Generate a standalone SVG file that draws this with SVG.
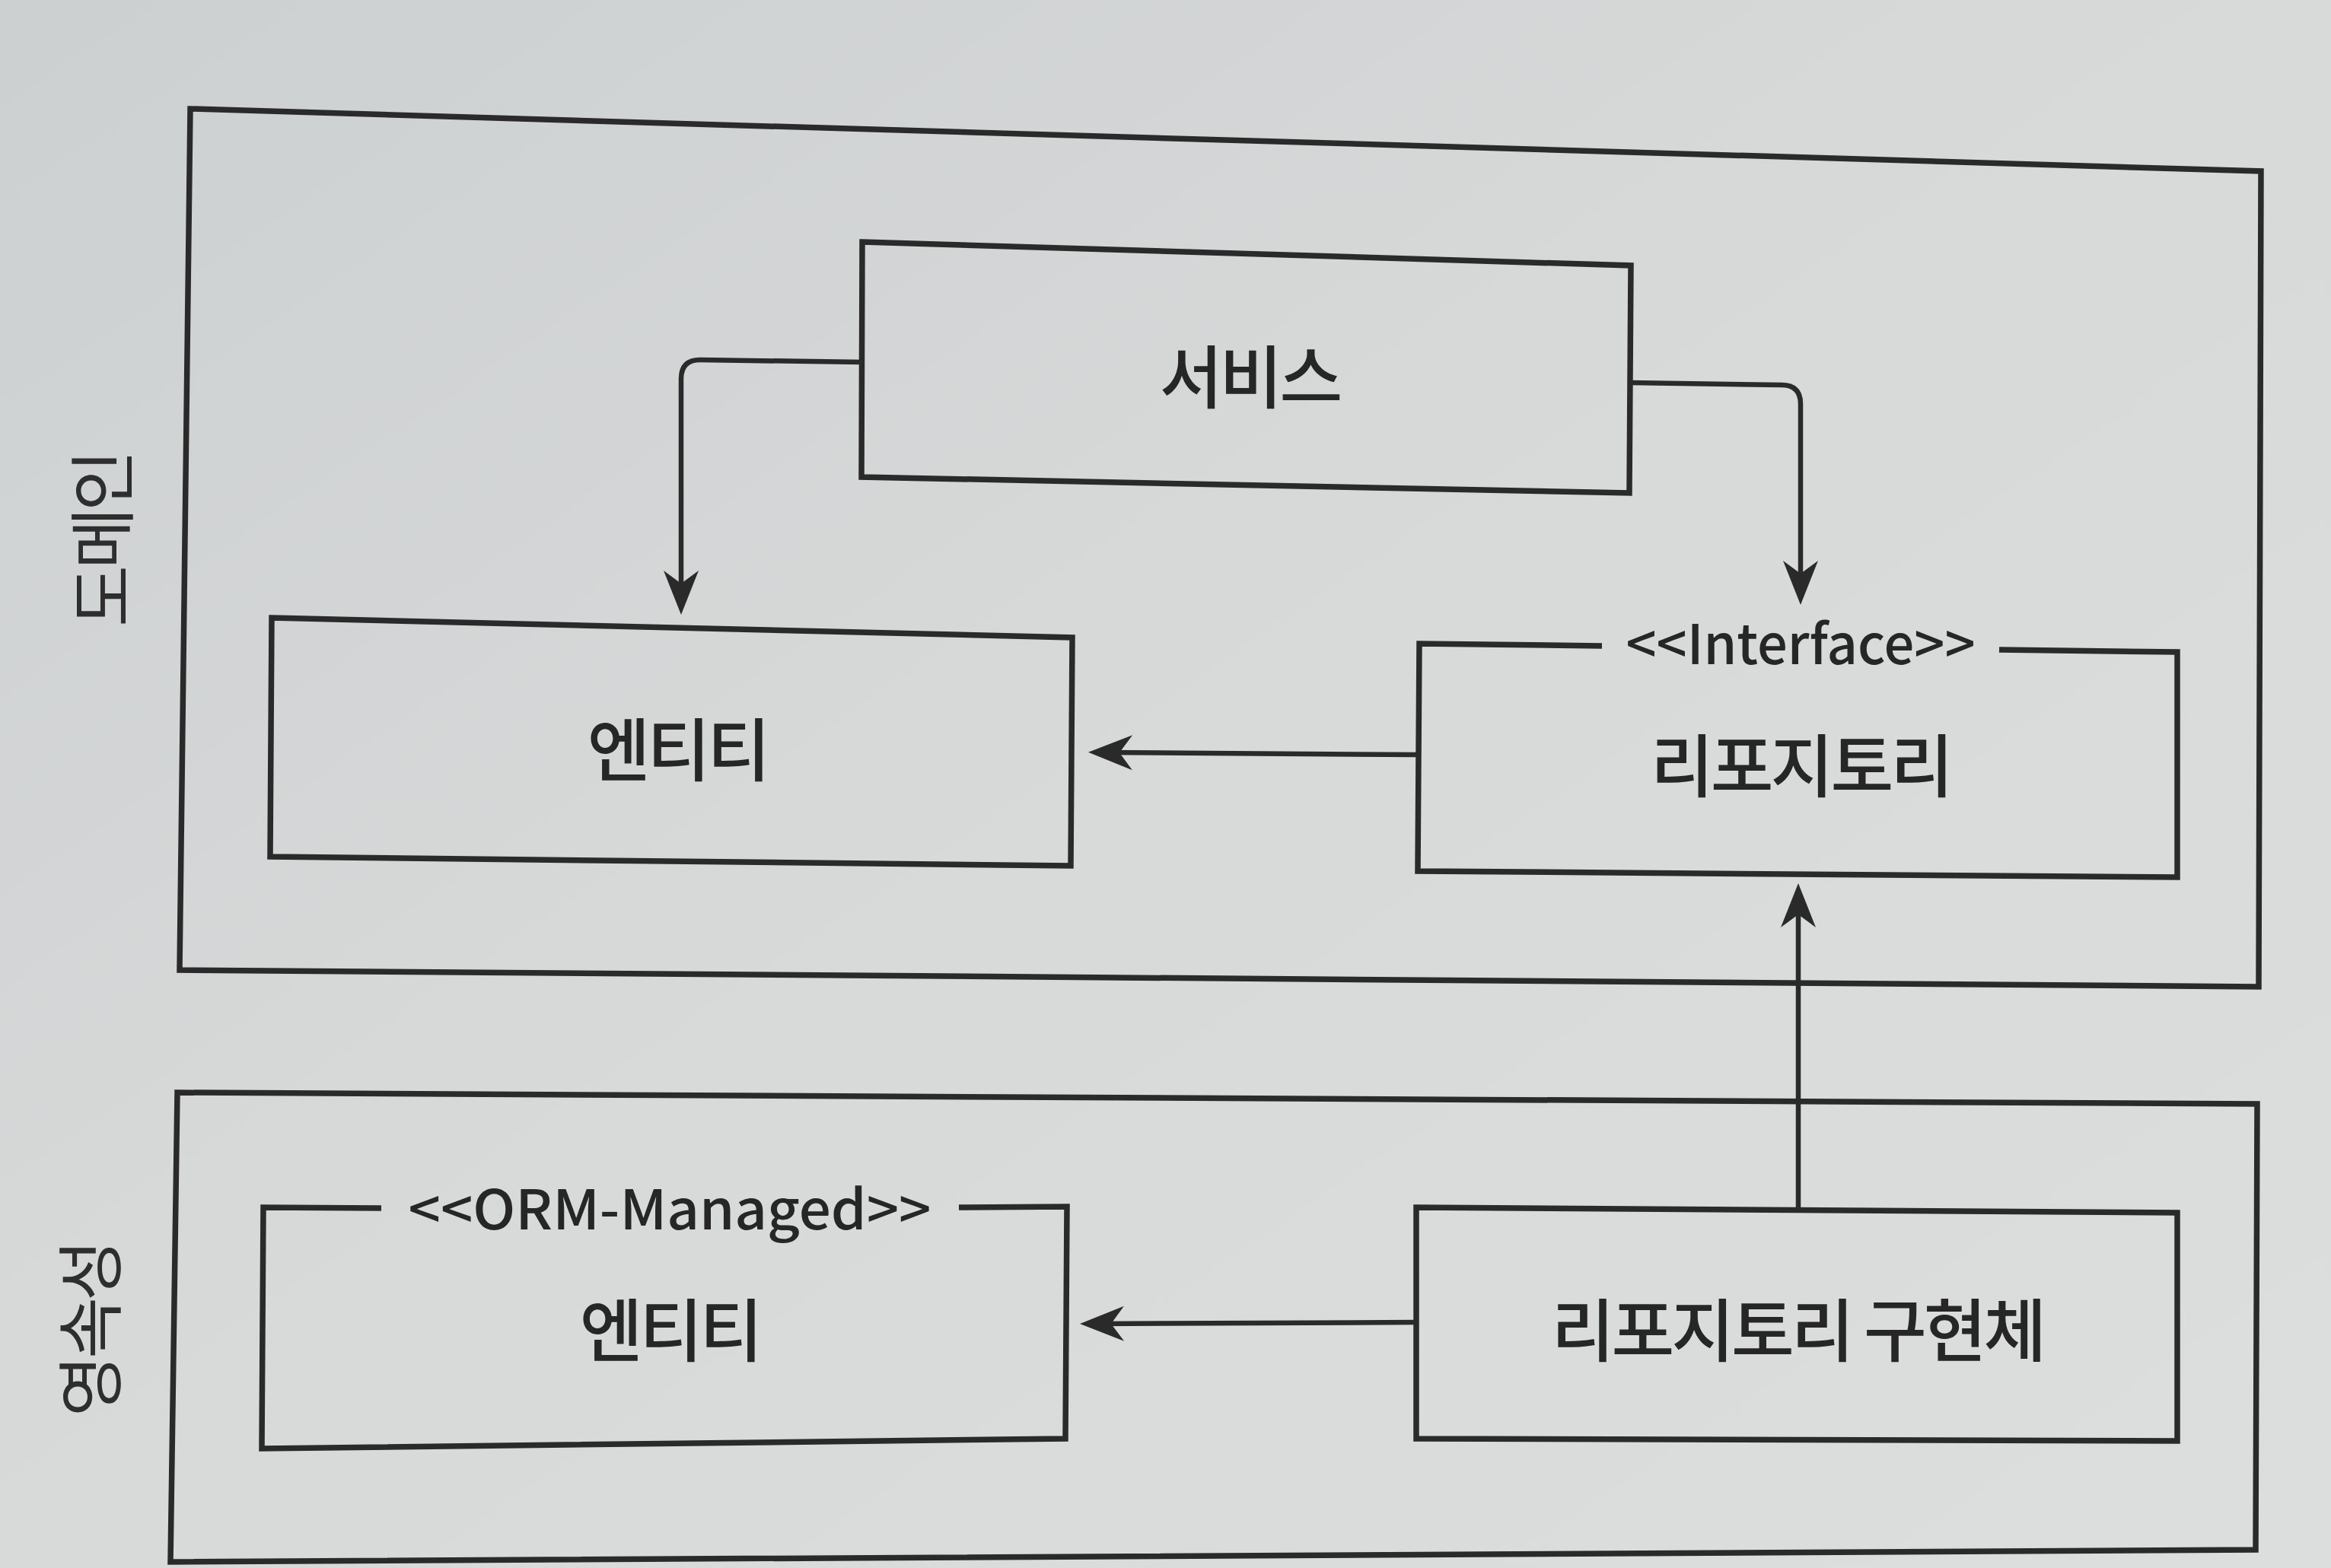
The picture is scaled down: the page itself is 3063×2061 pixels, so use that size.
<svg xmlns="http://www.w3.org/2000/svg" width="3063" height="2061" viewBox="0 0 3063 2061">
<defs>
<linearGradient id="paper" x1="0" y1="0" x2="1" y2="1">
<stop offset="0" stop-color="#cdd0d0"/>
<stop offset="0.5" stop-color="#d8dada"/>
<stop offset="1" stop-color="#dcdedd"/>
</linearGradient>
<marker id="arr" markerUnits="userSpaceOnUse" markerWidth="60" markerHeight="50" viewBox="0 0 60 50" refX="38" refY="25" orient="auto" overflow="visible">
<path d="M0,2 L58,25 L0,48 L17,25 Z" fill="#2a2a2a"/>
</marker>
<style>
.box{fill:none;stroke:#2a2a2a;stroke-width:7.5;stroke-linejoin:miter}
.con{fill:none;stroke:#2a2a2a;stroke-width:6.5}
.lbl{font-family:"Noto Sans CJK KR","Noto Sans",sans-serif;font-size:90px;font-weight:500;fill:#262626;text-anchor:middle;dominant-baseline:central;letter-spacing:-4px}
.layer{font-family:"Noto Sans CJK KR","Noto Sans",sans-serif;font-size:88px;font-weight:400;fill:#2e2e2e;text-anchor:middle;dominant-baseline:central;letter-spacing:-5px}
.st{font-family:"Noto Sans CJK KR","Noto Sans",sans-serif;font-size:72px;font-weight:500;fill:#262626;text-anchor:middle}
</style>
</defs>
<rect x="0" y="0" width="3063" height="2061" fill="url(#paper)"/>

<g id="layer-domain">
<polygon class="box" points="250,143 2971,225 2968,1297 236,1275"/>
<text class="layer" transform="translate(128,710) rotate(-90)">도메인</text>
</g>

<g id="layer-persistence">
<polygon class="box" points="233,1436 2966,1451 2964,2037 224,2053"/>
<text class="layer" transform="translate(112,1748) rotate(-90)">영속성</text>
</g>

<g id="service">
<polygon class="box" points="1133,318 2143,349 2141,648 1132,627"/>
<text class="lbl" x="1642" y="490">서비스</text>
</g>

<g id="domain-entity">
<polygon class="box" points="357,812 1409,838 1407,1138 355,1126"/>
<text class="lbl" x="890" y="980">엔티티</text>
</g>

<g id="domain-repository">
<path class="box" d="M2105,849 L1865,846 L1863,1145 L2861,1153 L2861,857 L2627,854"/>
<text class="st" x="2366" y="873" textLength="459" lengthAdjust="spacingAndGlyphs">&lt;&lt;Interface&gt;&gt;</text>
<text class="lbl" x="2366" y="1001">리포지토리</text>
</g>

<g id="persistence-entity">
<path class="box" d="M501,1588 L346,1587 L344,1904 L1400,1891 L1402,1586 L1260,1587"/>
<text class="st" x="880" y="1616" textLength="687" lengthAdjust="spacingAndGlyphs">&lt;&lt;ORM-Managed&gt;&gt;</text>
<text class="lbl" x="880" y="1743">엔티티</text>
</g>

<g id="repository-impl">
<polygon class="box" points="1861,1587 2861,1594 2861,1894 1861,1891"/>
<text class="lbl" x="2362" y="1743">리포지토리 구현체</text>
</g>

<g id="connectors">
<path class="con" marker-end="url(#arr)" d="M1133,476 L920,473 Q895,473 895,498 L895,788"/>
<path class="con" marker-end="url(#arr)" d="M2143,503 L2341,506 Q2366,506 2366,531 L2366,775"/>
<path class="con" marker-end="url(#arr)" d="M1863,992 L1450,989"/>
<path class="con" marker-end="url(#arr)" d="M2363,1588 L2363,1181"/>
<path class="con" marker-end="url(#arr)" d="M1861,1738 L1439,1740"/>
</g>
</svg>
